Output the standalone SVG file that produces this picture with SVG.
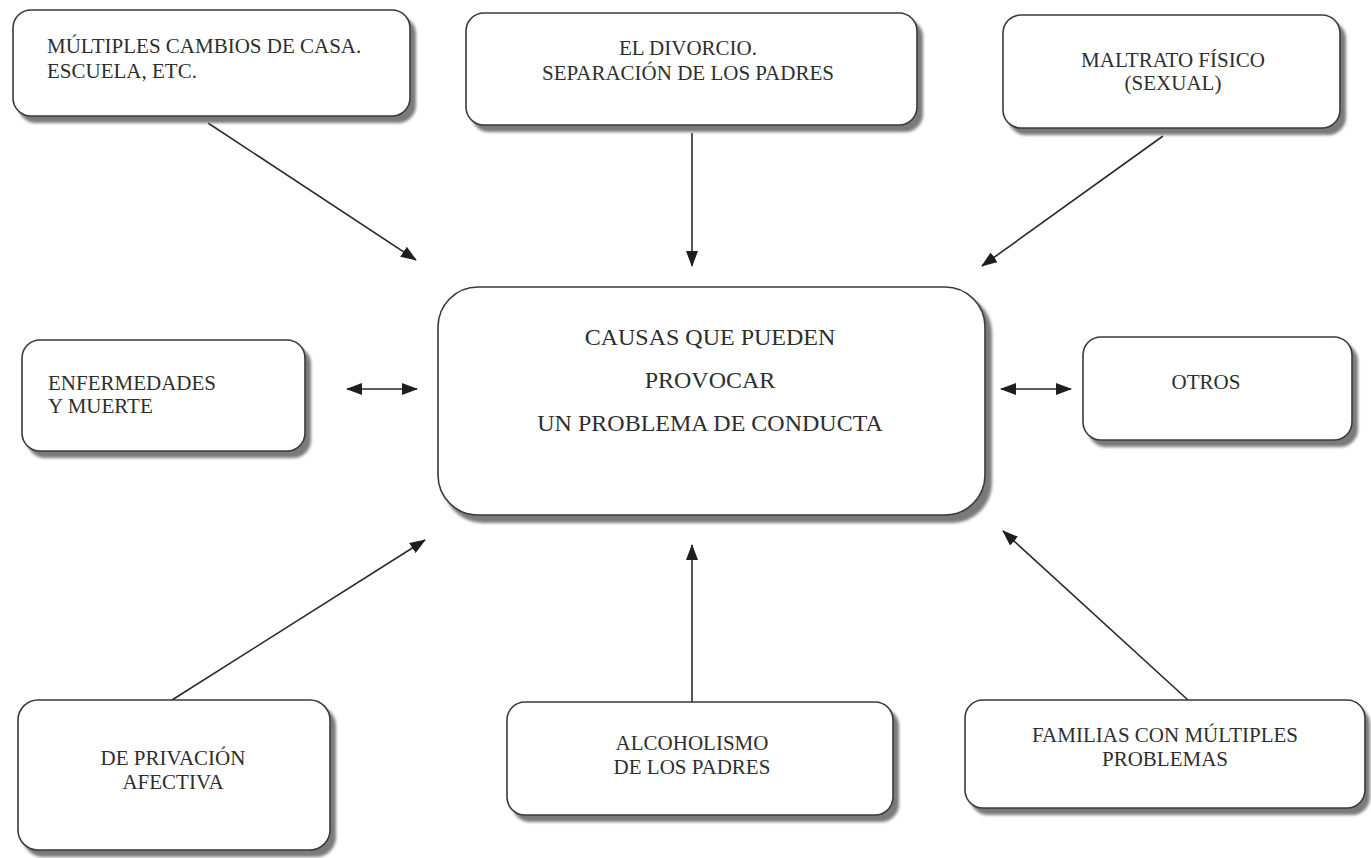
<svg xmlns="http://www.w3.org/2000/svg" width="1371" height="858" viewBox="0 0 1371 858">
<style>
.box{fill:#fff;stroke:#3a3a3a;stroke-width:1.6}
.sh{fill:#7a7a7a;filter:url(#blur)}
.t{font-family:"Liberation Serif","Times New Roman",serif;font-size:21px;fill:#2e2e2e}
.tc{text-anchor:middle}
.big{font-size:24px}
.ln{stroke:#2a2a2a;stroke-width:1.6;fill:none}
</style>
<defs>
<filter id="blur" x="-5%" y="-5%" width="110%" height="110%"><feGaussianBlur stdDeviation="1.5"/></filter>
<marker id="ah" viewBox="0 0 16 12" refX="15" refY="6" markerWidth="16" markerHeight="12" markerUnits="userSpaceOnUse" orient="auto-start-reverse">
<path d="M0,0 L16,6 L0,12 Z" fill="#1e1e1e"/>
</marker>
</defs>
<rect width="1371" height="858" fill="#fff"/>

<g id="connectors">
<line class="ln" x1="208" y1="123" x2="416" y2="260" marker-end="url(#ah)"/>
<line class="ln" x1="692" y1="133" x2="692" y2="266" marker-end="url(#ah)"/>
<line class="ln" x1="1163" y1="136" x2="982" y2="266" marker-end="url(#ah)"/>
<line class="ln" x1="172" y1="700" x2="425" y2="540" marker-end="url(#ah)"/>
<line class="ln" x1="692" y1="702" x2="692" y2="545" marker-end="url(#ah)"/>
<line class="ln" x1="1188" y1="700" x2="1003" y2="531" marker-end="url(#ah)"/>
<line class="ln" x1="347" y1="389" x2="417" y2="389" marker-start="url(#ah)" marker-end="url(#ah)"/>
<line class="ln" x1="1001" y1="389" x2="1071" y2="389" marker-start="url(#ah)" marker-end="url(#ah)"/>
</g>

<g id="n-multiples">
<rect class="sh" x="18" y="16" width="398" height="107" rx="18"/>
<rect class="box" x="13" y="10" width="397" height="106" rx="18"/>
<text class="t" x="47" y="53">MÚLTIPLES CAMBIOS DE CASA.</text>
<text class="t" x="47" y="78">ESCUELA, ETC.</text>
</g>

<g id="n-divorcio">
<rect class="sh" x="471" y="19" width="452" height="113" rx="18"/>
<rect class="box" x="466" y="13" width="451" height="112" rx="18"/>
<text class="t tc" x="688" y="55">EL DIVORCIO.</text>
<text class="t tc" x="688" y="80">SEPARACIÓN DE LOS PADRES</text>
</g>

<g id="n-maltrato">
<rect class="sh" x="1008" y="21" width="338" height="114" rx="18"/>
<rect class="box" x="1003" y="15" width="337" height="113" rx="18"/>
<text class="t tc" x="1173" y="67">MALTRATO FÍSICO</text>
<text class="t tc" x="1173" y="90">(SEXUAL)</text>
</g>

<g id="n-central">
<rect class="sh" x="443" y="293" width="549" height="230" rx="40"/>
<rect class="box" x="438" y="287" width="547" height="228" rx="40"/>
<text class="t tc big" x="710" y="345">CAUSAS QUE PUEDEN</text>
<text class="t tc big" x="710" y="388">PROVOCAR</text>
<text class="t tc big" x="710" y="431">UN PROBLEMA DE CONDUCTA</text>
</g>

<g id="n-enfermedades">
<rect class="sh" x="27" y="346" width="284" height="112" rx="18"/>
<rect class="box" x="22" y="340" width="283" height="111" rx="18"/>
<text class="t" x="48" y="390">ENFERMEDADES</text>
<text class="t" x="48" y="413">Y MUERTE</text>
</g>

<g id="n-otros">
<rect class="sh" x="1088" y="343" width="270" height="104" rx="18"/>
<rect class="box" x="1083" y="337" width="269" height="103" rx="18"/>
<text class="t tc" x="1206" y="389">OTROS</text>
</g>

<g id="n-privacion">
<rect class="sh" x="23" y="706" width="313" height="151" rx="20"/>
<rect class="box" x="18" y="700" width="312" height="150" rx="20"/>
<text class="t tc" x="173" y="765">DE PRIVACIÓN</text>
<text class="t tc" x="173" y="789">AFECTIVA</text>
</g>

<g id="n-alcoholismo">
<rect class="sh" x="512" y="708" width="387" height="114" rx="18"/>
<rect class="box" x="507" y="702" width="386" height="113" rx="18"/>
<text class="t tc" x="692" y="750">ALCOHOLISMO</text>
<text class="t tc" x="692" y="774">DE LOS PADRES</text>
</g>

<g id="n-familias">
<rect class="sh" x="970" y="706" width="400" height="109" rx="18"/>
<rect class="box" x="965" y="700" width="400" height="108" rx="18"/>
<text class="t tc" x="1165" y="742">FAMILIAS CON MÚLTIPLES</text>
<text class="t tc" x="1165" y="766">PROBLEMAS</text>
</g>
</svg>
